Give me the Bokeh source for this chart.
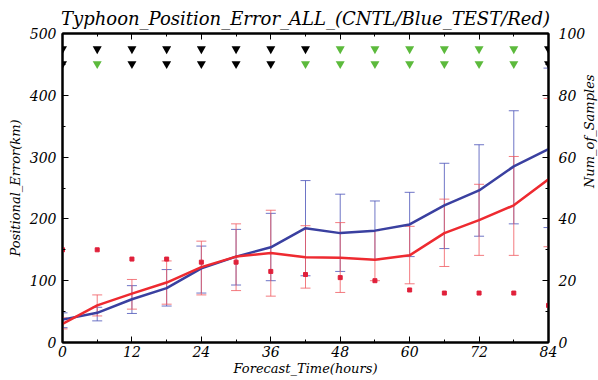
import math
from bokeh.plotting import figure
from bokeh.models import (Range1d, LinearAxis, FixedTicker, ColumnDataSource,
                          Whisker, TeeHead, CustomJSTickFormatter)
from bokeh.embed import file_html
from bokeh.resources import INLINE

hours = [0, 6, 12, 18, 24, 30, 36, 42, 48, 54, 60, 66, 72, 78, 84]
cntl_mean = [37, 48, 70, 88, 120, 139, 154, 185, 177, 181, 191, 222, 246, 285, 313]
cntl_upper = [48, 57, 92, 118, 156, 183, 209, 262, 240, 229, 243, 290, 320, 375, 444]
cntl_lower = [24, 35, 47, 59, 80, 93, 100, 108, 115, 134, 139, 152, 172, 192, 186]
test_mean = [30, 60, 79, 97, 122, 139, 145, 138, 137, 134, 141, 177, 198, 222, 264]
test_upper = [40, 77, 102, 132, 164, 192, 214, 189, 194, 181, 188, 232, 256, 301, 395]
test_lower = [22, 43, 54, 62, 77, 84, 75, 88, 81, 100, 95, 123, 141, 141, 155]
samples = [30, 30, 27, 27, 26, 26, 23, 22, 21, 20, 17, 16, 16, 16, 12]
# significance markers (row1 / row2): "k" black, "g" green
sig_row1 = ["k", "k", "k", "k", "k", "k", "k", "k", "g", "g", "g", "g", "g", "g", "k"]
sig_row2 = ["k", "g", "k", "k", "k", "k", "k", "g", "g", "g", "g", "g", "g", "g", "k"]
x_ticks = [0, 12, 24, 36, 48, 60, 72, 84]
y_ticks = [0, 100, 200, 300, 400, 500]
n_ticks = [0, 20, 40, 60, 80, 100]

FONT = "DejaVu Serif"
BLUE = "#3a40a0"
RED = "#ee2a30"
GREEN = "#5cba3c"

p = figure(frame_width=486, frame_height=309, output_backend="svg",
           toolbar_location=None, x_range=Range1d(0, 84), y_range=Range1d(0, 500),
           min_border_left=62, min_border_right=42, min_border_top=5,
           min_border_bottom=30)
p.extra_y_ranges = {"samples": Range1d(0, 100)}

p.title.text = "Typhoon_Position_Error_ALL_(CNTL/Blue_TEST/Red)"
p.title.text_font = FONT
p.title.text_font_style = "italic"
p.title.text_font_size = "18px"
p.title.text_color = "black"
p.title.align = "center"
p.title.offset = 0
p.title.standoff = 10

p.grid.visible = False
p.outline_line_color = "black"
p.outline_line_width = 2
p.background_fill_color = "white"

def style_axis(ax):
    ax.axis_line_width = 2
    ax.axis_line_color = "black"
    ax.major_tick_in = 6
    ax.major_tick_out = 0
    ax.minor_tick_in = 3
    ax.minor_tick_out = 0
    ax.major_tick_line_color = "black"
    ax.minor_tick_line_color = "black"
    ax.major_label_text_font = FONT
    ax.major_label_text_font_style = "italic"
    ax.major_label_text_font_size = "14px"
    ax.major_label_text_color = "black"
    ax.axis_label_text_font = FONT
    ax.axis_label_text_font_style = "italic"
    ax.axis_label_text_font_size = "13px"
    ax.axis_label_text_color = "black"

xa = p.xaxis[0]
xa.ticker = FixedTicker(ticks=x_ticks, minor_ticks=list(range(0, 85, 6)))
xa.axis_label = "Forecast_Time(hours)"
xa.axis_label_standoff = 1
xa.major_label_standoff = 3
style_axis(xa)

ya = p.yaxis[0]
ya.ticker = FixedTicker(ticks=y_ticks, minor_ticks=list(range(0, 501, 50)))
ya.axis_label = "Positional_Error(km)"
ya.axis_label_standoff = 4
ya.major_label_standoff = 6
style_axis(ya)

ra = LinearAxis(y_range_name="samples", axis_label="Num_of_Samples")
ra.ticker = FixedTicker(ticks=n_ticks, minor_ticks=list(range(0, 101, 10)))
ra.major_label_standoff = 10
ra.axis_label_standoff = 1
style_axis(ra)
if "axis_label_orientation" in ra.properties():
    ra.axis_label_orientation = math.pi / 2
p.add_layout(ra, "right")

ta = LinearAxis()
ta.ticker = FixedTicker(ticks=x_ticks, minor_ticks=list(range(0, 85, 6)))
style_axis(ta)
ta.formatter = CustomJSTickFormatter(code="return ''")
ta.major_label_standoff = 0
p.add_layout(ta, "above")

# error bars
src_c = ColumnDataSource(dict(x=hours, lo=cntl_lower, hi=cntl_upper))
src_t = ColumnDataSource(dict(x=hours, lo=test_lower, hi=test_upper))
for src, col in ((src_c, "#4a52b8"), (src_t, "#f05a60")):
    w = Whisker(source=src, base="x", lower="lo", upper="hi",
                line_color=col, line_width=1, line_alpha=0.8,
                upper_head=TeeHead(size=10, line_color=col, line_width=1, line_alpha=0.8),
                lower_head=TeeHead(size=10, line_color=col, line_width=1, line_alpha=0.8))
    p.add_layout(w)

p.line(hours, cntl_mean, line_color=BLUE, line_width=2.5)
p.line(hours, test_mean, line_color=RED, line_width=2.5)

# sample counts
p.scatter(hours, samples, y_range_name="samples", marker="square", size=4,
          fill_color="#e0203a", line_color="#e0203a")

# significance triangles
col_map = {"k": "black", "g": GREEN}
row1_y = [475] * len(hours)
row2_y = [451] * len(hours)
p.scatter(hours, row1_y, marker="inverted_triangle", size=9,
          fill_color=[col_map[c] for c in sig_row1], line_color=None)
p.scatter(hours, row2_y, marker="inverted_triangle", size=9,
          fill_color=[col_map[c] for c in sig_row2], line_color=None)

open("out.html", "w").write(file_html(p, INLINE))
